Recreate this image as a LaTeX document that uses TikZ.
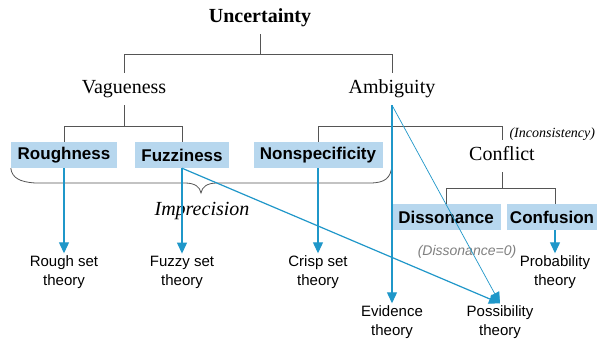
\documentclass[tikz,border=0pt]{standalone}
\usepackage{fontspec}
\setmainfont{Liberation Serif}
\setsansfont{Liberation Sans}
\usetikzlibrary{arrows.meta}

\definecolor{treegray}{HTML}{555555}
\definecolor{arrowblue}{HTML}{1F97C9}
\definecolor{boxblue}{HTML}{B7D7EE}
\definecolor{notegray}{HTML}{808080}

\begin{document}
\begin{tikzpicture}[x=1pt, y=-1pt,
    concept/.style={font=\fontsize{20}{24}\selectfont, inner xsep=2pt, inner ysep=7pt, text height=14pt, text depth=4pt},
    measure/.style={fill=boxblue, font=\sffamily\bfseries\fontsize{17}{20}\selectfont, minimum height=26pt, inner sep=0pt},
    theory/.style={font=\sffamily\fontsize{15}{19}\selectfont, align=center, inner sep=2pt},
    tree/.style={draw=treegray, line width=0.8pt},
    link/.style={draw=arrowblue, line width=1.2pt, -{Triangle[width=10pt,length=11pt]}},
    note/.style={font=\itshape\fontsize{14}{16}\selectfont}]
    \useasboundingbox[fill=white] (0,0) rectangle (598,339);

    % concepts
    \node[concept, font=\bfseries\fontsize{20}{24}\selectfont] (unc) at (260,18) {Uncertainty};
    \node[concept] (vag)  at (124,89)  {Vagueness};
    \node[concept] (amb)  at (392,89)  {Ambiguity};
    \node[concept] (conflict) at (502,156) {Conflict};

    % measures
    \node[measure, minimum width=106pt] (rough)   at (64,155)  {Roughness};
    \node[measure, minimum width=94pt]  (fuzzy)   at (182,155) {Fuzziness};
    \node[measure, minimum width=129pt] (nonspec) at (318,155) {Nonspecificity};
    \node[measure, minimum width=109pt] (diss)    at (446,217) {Dissonance};
    \node[measure, minimum width=90pt]  (conf)    at (552,217) {Confusion};

    % theories
    \node[theory] (roughT) at (64,272)  {Rough set\\theory};
    \node[theory] (fuzzyT) at (182,272) {Fuzzy set\\theory};
    \node[theory] (crispT) at (318,272) {Crisp set\\theory};
    \node[theory] (evidT)  at (392,322) {Evidence\\theory};
    \node[theory] (possT)  at (500,322) {Possibility\\theory};
    \node[theory] (probT)  at (555,272) {Probability\\theory};

    % notes
    \node[note, anchor=west] (incons) at (506,134) {(Inconsistency)};
    \node[note, font=\itshape\fontsize{20}{24}\selectfont] (impr) at (202,211) {Imprecision};
    \node[note, font=\sffamily\itshape\fontsize{14}{16}\selectfont, text=notegray] (disszero) at (467,252) {(Dissonance=0)};

    % tree
    \draw[tree] (unc.south) -- ++(0,20) -| (vag.north);
    \draw[tree] (unc.south) -- ++(0,20) -| (amb.north);
    \draw[tree] (vag.south) -- ++(0,21) -| (rough.north);
    \draw[tree] (vag.south) -- ++(0,21) -| (fuzzy.north);
    \draw[tree] (amb.south) -- ++(0,21) -| (nonspec.north);
    \draw[tree] (amb.south) -- ++(0,21) -| (conflict.north);
    \draw[tree] (conflict.south) -- ++(0,16) -| (diss.north);
    \draw[tree] (conflict.south) -- ++(0,16) -| ([xshift=3pt]conf.north);

    % brace
    \draw[treegray, line width=0.8pt] (rough.south west) .. controls (12,178) and (20,182) .. (35,183)
        -- (185,183) .. controls (195,183) and (200,187) .. (201,193)
        .. controls (202,187) and (207,183) .. (217,183)
        -- (370,183) .. controls (385,183) and (391,178) .. (392,165);

    % links
    \draw[link] (rough.south) -- (roughT.north);
    \draw[link] (fuzzy.south) -- (fuzzyT.north);
    \draw[link] (nonspec.south) -- (crispT.north);
    \draw[link] (amb.south) -- (evidT.north);
    \draw[link] (fuzzy.south) -- (possT.north);
    \draw[link, line width=0.7pt] (amb.south) -- (possT.north);
    \draw[link] ([xshift=3pt]conf.south) -- (probT.north);
\end{tikzpicture}
\end{document}
